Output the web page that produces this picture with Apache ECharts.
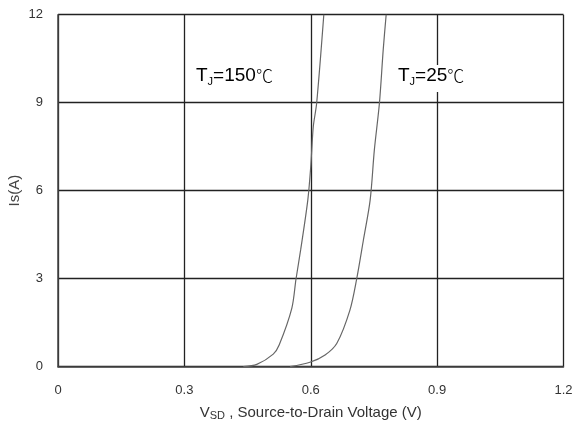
<!DOCTYPE html>
<html><head><meta charset="utf-8">
<script src="https://cdn.jsdelivr.net/npm/echarts@6/dist/echarts.min.js"></script>
<style>html,body{margin:0;padding:0;background:#fff}#c{width:578px;height:430px}</style>
</head><body><div id="c"></div>
<script>
const xTicks = [0, 0.3, 0.6, 0.9, 1.2];
const yTicks = [0, 3, 6, 9, 12];
const v150 = [0.44, 0.472, 0.511, 0.525, 0.555, 0.565, 0.576, 0.593, 0.600, 0.606, 0.614, 0.631];
const i150 = [0, 0.08, 0.43, 0.74, 1.99, 2.99, 3.98, 5.68, 6.82, 8.18, 8.98, 12];
const v25 = [0.551, 0.598, 0.634, 0.662, 0.693, 0.709, 0.725, 0.741, 0.751, 0.763, 0.772, 0.779];
const i25 = [0, 0.15, 0.40, 0.80, 1.93, 2.99, 4.32, 5.68, 7.39, 8.98, 10.8, 12];
const labels = ['T|J|=150|℃', 'T|J|=25|℃'];

const chart = echarts.init(document.getElementById('c'));
const ff = '"Liberation Sans", Arial, sans-serif';
function pair(v, i) { return v.map((x, k) => [x, i[k]]); }
function lab(s) { const p = s.split('|'); return `{t|${p[0]}}{s|${p[1]}}{t|${p[2]}}{c|${p[3]}}`; }
const rich = {
  t: { fontFamily: ff, fontSize: 19, color: '#111', lineHeight: 22 },
  s: { fontFamily: ff, fontSize: 11, color: '#111', lineHeight: 22, padding: [11, 0, 0, 0] },
  c: { fontFamily: '"Noto Sans CJK SC", sans-serif', fontSize: 17, color: '#888', fontWeight: 300, lineHeight: 22 }
};
chart.setOption({
  animation: false,
  grid: { left: 58, right: 14.5, top: 14.7, bottom: 63.3, outerBoundsMode: 'none', containLabel: false },
  xAxis: {
    type: 'value', min: xTicks[0], max: xTicks[xTicks.length - 1], interval: 0.3,
    axisLine: { show: true, lineStyle: { color: '#444', width: 1.5 } },
    axisTick: { show: false },
    splitLine: { show: true, lineStyle: { color: '#222', width: 1.3 } },
    axisLabel: { color: '#333', fontFamily: ff, fontSize: 13, margin: 17,
      formatter: v => { const s = xTicks.find(t => Math.abs(t - v) < 1e-6); return s === 0 ? '0' : String(s); } },
    name: '{a|V}{b|SD}{a| , Source-to-Drain Voltage (V)}', nameLocation: 'middle', nameGap: 38,
    nameTextStyle: { rich: { a: { fontFamily: ff, fontSize: 15, color: '#333' }, b: { fontFamily: ff, fontSize: 11, color: '#333', padding: [6, 0, 0, 0] } } }
  },
  yAxis: {
    type: 'value', min: yTicks[0], max: yTicks[yTicks.length - 1], interval: 3,
    axisLine: { show: true, lineStyle: { color: '#444', width: 1.5 } },
    axisTick: { show: false },
    splitLine: { show: true, lineStyle: { color: '#222', width: 1.3 } },
    axisLabel: { color: '#333', fontFamily: ff, fontSize: 13, margin: 15 },
    name: 'Is(A)', nameLocation: 'middle', nameGap: 36, nameRotate: 90, nameMoveOverlap: false,
    nameTextStyle: { fontFamily: ff, fontSize: 15, color: '#444' }
  },
  series: [
    { type: 'line', data: pair(v150, i150), showSymbol: false, smooth: 0.3, lineStyle: { color: '#666', width: 1.2 } },
    { type: 'line', data: pair(v25, i25), showSymbol: false, smooth: 0.3, lineStyle: { color: '#666', width: 1.2 } }
  ],
  graphic: [
    { type: 'rect', shape: { x: 195, y: 65, width: 92, height: 27 }, style: { fill: '#fff' }, z: 10 },
    { type: 'text', left: 196, top: 65, z: 11, style: { text: lab(labels[0]), rich } },
    { type: 'rect', shape: { x: 396, y: 65, width: 82, height: 27 }, style: { fill: '#fff' }, z: 10 },
    { type: 'text', left: 398, top: 65, z: 11, style: { text: lab(labels[1]), rich } }
  ]
});
</script></body></html>
